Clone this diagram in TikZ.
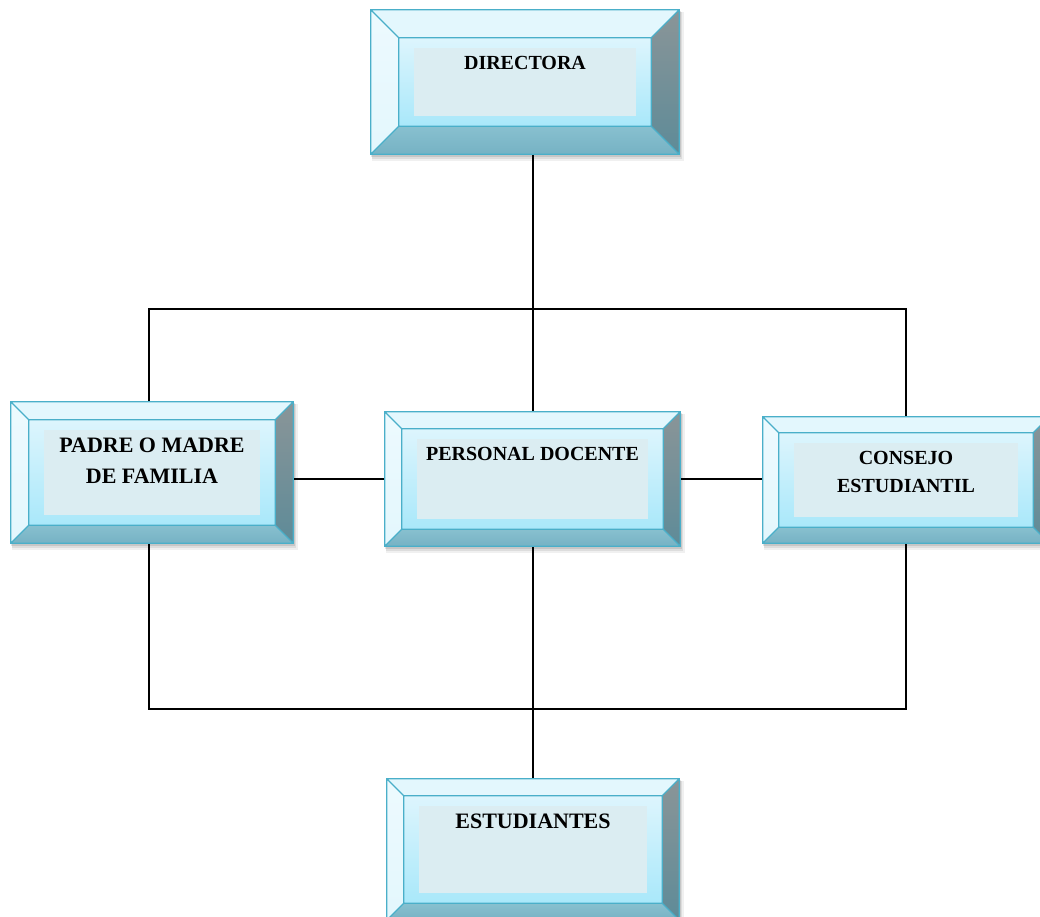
\documentclass[tikz,border=0pt]{standalone}
\usepackage{fontspec}
\setmainfont{Liberation Serif}
\usetikzlibrary{calc}
\definecolor{bord}{HTML}{4AAFC9}
\definecolor{topb}{HTML}{E3F7FD}
\definecolor{leftb}{HTML}{EDFAFE}
\definecolor{rightt}{HTML}{8A9598}
\definecolor{rightb}{HTML}{5E8B98}
\definecolor{bott}{HTML}{88C0CF}
\definecolor{botb}{HTML}{76B2C4}
\definecolor{innt}{HTML}{DDF5FD}
\definecolor{innb}{HTML}{A9E8FA}
\definecolor{panel}{HTML}{DBEDF2}
\tikzset{
  box/.style={rectangle, inner sep=0pt, draw=none},
  lab/.style={anchor=north, inner sep=0pt, align=center,
    font=\fontsize{20}{30}\selectfont\bfseries, text=black},
  biglab/.style={lab, font=\fontsize{22}{31}\selectfont\bfseries},
  conn/.style={line width=1.4pt, black},
}
\newcommand\bevbox[2]{%
  \coordinate (#1-a) at (#1.north west);
  \coordinate (#1-b) at (#1.north east);
  \coordinate (#1-c) at (#1.south east);
  \coordinate (#1-d) at (#1.south west);
  \coordinate (#1-ia) at ($(#1-a)+(#2,#2)$);
  \coordinate (#1-ib) at ($(#1-b)+(-#2,#2)$);
  \coordinate (#1-ic) at ($(#1-c)+(-#2,-#2)$);
  \coordinate (#1-id) at ($(#1-d)+(#2,-#2)$);
  \fill[black,opacity=0.06] ($(#1-a)+(1,2)$) rectangle ($(#1-c)+(5,7)$);
  \fill[black,opacity=0.08] ($(#1-a)+(1,2)$) rectangle ($(#1-c)+(3,5)$);
  \fill[black,opacity=0.10] ($(#1-a)+(0,1)$) rectangle ($(#1-c)+(2,3)$);
  \fill[topb] (#1-a)--(#1-b)--(#1-ib)--(#1-ia)--cycle;
  \shade[top color=leftb, bottom color=topb] (#1-a)--(#1-ia)--(#1-id)--(#1-d)--cycle;
  \shade[top color=rightt, bottom color=rightb] (#1-b)--(#1-c)--(#1-ic)--(#1-ib)--cycle;
  \shade[top color=bott, bottom color=botb] (#1-d)--(#1-id)--(#1-ic)--(#1-c)--cycle;
  \shade[top color=innt, bottom color=innb] (#1-ia) rectangle (#1-ic);
  \fill[panel] ($(#1-ia)+(15,10)$) rectangle ($(#1-ic)+(-15,-10)$);
  \draw[bord, line width=1.3pt] (#1-a) rectangle (#1-c) (#1-ia) rectangle (#1-ic)
    (#1-a)--(#1-ia) (#1-b)--(#1-ib) (#1-c)--(#1-ic) (#1-d)--(#1-id);
}
\begin{document}
\begin{tikzpicture}[x=1pt, y=-1pt]
\useasboundingbox (0,0) rectangle (1040,917);
\clip (0,0) rectangle (1040,917);
% junction coordinates
\coordinate (jl) at (149,309);
\coordinate (jt) at (533,309);
\coordinate (jr) at (906,309);
\coordinate (bl) at (149,709);
\coordinate (br) at (906,709);
% boxes
\node[box, minimum width=308pt, minimum height=144pt] (dir) at (525,82) {};
\node[box, minimum width=282pt, minimum height=141pt] (padre) at (152,472.5) {};
\node[box, minimum width=295pt, minimum height=134pt] (pers) at (532.5,479) {};
\node[box, minimum width=286pt, minimum height=126pt] (cons) at (906,480) {};
\node[box, minimum width=292pt, minimum height=141pt] (est) at (533,849.5) {};
% connectors
\draw[conn] (jt |- dir.south) -- (jt);
\draw[conn] (jl |- padre.north) -- (jl) -- (jr) -- (jr |- cons.north);
\draw[conn] (jt) -- (jt |- pers.north);
\draw[conn] (padre.east |- pers.west) -- (pers.west);
\draw[conn] (pers.east) -- (pers.east -| cons.west);
\draw[conn] (bl |- padre.south) -- (bl) -- (br) -- (br |- cons.south);
\draw[conn] (jt |- pers.south) -- (jt |- est.north);
% bevel decorations
\bevbox{dir}{28}
\bevbox{padre}{18}
\bevbox{pers}{17}
\bevbox{cons}{16}
\bevbox{est}{17}
% labels
\node[lab] (dir-t) at ($(dir-ia)!0.5!(dir-ib)+(0,18)$) {DIRECTORA};
\node[biglab] (padre-t) at ($(padre-ia)!0.5!(padre-ib)+(0,18)$) {PADRE O MADRE\\DE FAMILIA};
\node[lab] (pers-t) at ($(pers-ia)!0.5!(pers-ib)+(0,18)$) {PERSONAL DOCENTE};
\node[lab, font=\fontsize{20}{28}\selectfont\bfseries] (cons-t) at ($(cons-ia)!0.5!(cons-ib)+(0,18)$) {CONSEJO\\ESTUDIANTIL};
\node[biglab] (est-t) at ($(est-ia)!0.5!(est-ib)+(0,18)$) {ESTUDIANTES};
\end{tikzpicture}
\end{document}
